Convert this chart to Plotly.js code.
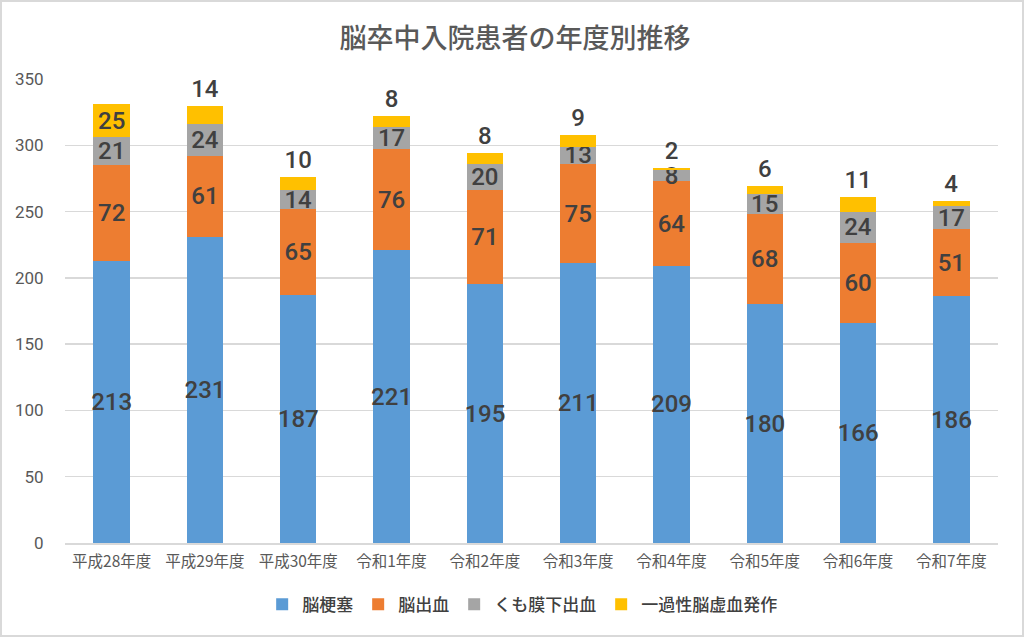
<!DOCTYPE html>
<html><head><meta charset="utf-8">
<script src="https://cdn.plot.ly/plotly-3.0.1.min.js"></script>
<style>
html,body{margin:0;padding:0;background:#fff;}
#wrap{position:absolute;left:0;top:0;width:1020px;height:633px;border:2px solid #d9d9d9;}
#chart{width:1020px;height:633px;}
</style></head><body>
<div id="wrap"><div id="chart"></div></div>
<script>
const categories = ["平成28年度","平成29年度","平成30年度","令和1年度","令和2年度","令和3年度","令和4年度","令和5年度","令和6年度","令和7年度"];
const infarction = [213,231,187,221,195,211,209,180,166,186];
const hemorrhage = [72,61,65,76,71,75,64,68,60,51];
const subarachnoid = [21,24,14,17,20,13,8,15,24,17];
const tia = [25,14,10,8,8,9,2,6,11,4];

const jp = '"Noto Sans CJK JP", "Noto Sans", sans-serif';
const num = 'Roboto, "Liberation Sans", Arial, sans-serif';
const labelFont = {family: num, size: 24, color: '#404040', weight: 500};

function tr(name, y, color, pos){
  return {type:'bar', name:name, x:categories, y:y, marker:{color:color},
    text:y.map(String), textposition:pos, insidetextanchor:'middle', textangle:0,
    textfont:labelFont, insidetextfont:labelFont, outsidetextfont:labelFont,
    constraintext:'none', cliponaxis:false, hoverinfo:'none'};
}
const data = [
  tr('脳梗塞', infarction, '#5B9BD5', 'inside'),
  tr('脳出血', hemorrhage, '#ED7D31', 'inside'),
  tr('くも膜下出血', subarachnoid, '#A5A5A5', 'inside'),
  tr('一過性脳虚血発作', tia, '#FFC000', tia.map(v => v >= 20 ? 'inside' : 'outside'))
];
const layout = {
  width:1020, height:633,
  margin:{l:63, r:24, t:77, b:92},
  paper_bgcolor:'#fff', plot_bgcolor:'#fff',
  barmode:'stack', bargap:0.61,
  title:{text:'脳卒中入院患者の年度別推移', x:0.503, xanchor:'center', y:0.943, yanchor:'middle',
    font:{family:jp, size:27, color:'#595959', weight:500}},
  xaxis:{type:'category', showgrid:false, showline:true, linecolor:'#d9d9d9', linewidth:1.5,
    ticks:'outside', ticklen:4, tickcolor:'rgba(0,0,0,0)', tickfont:{family:jp, size:15.5, color:'#595959'}},
  yaxis:{range:[0,350], dtick:50, showgrid:true, gridcolor:'#d9d9d9', gridwidth:1.3,
    zeroline:false, showline:false, ticks:'outside', ticklen:17, tickcolor:'rgba(0,0,0,0)',
    tickfont:{family:num, size:17, color:'#595959'}},
  legend:{orientation:'h', x:0.49, xanchor:'center', y:-0.133, yanchor:'middle',
    font:{family:jp, size:17, color:'#404040', weight:500}, itemwidth:30, tracegroupgap:0, traceorder:'normal'},
  showlegend:true
};
Plotly.newPlot('chart', data, layout, {displayModeBar:false, staticPlot:true});
</script>
</body></html>
